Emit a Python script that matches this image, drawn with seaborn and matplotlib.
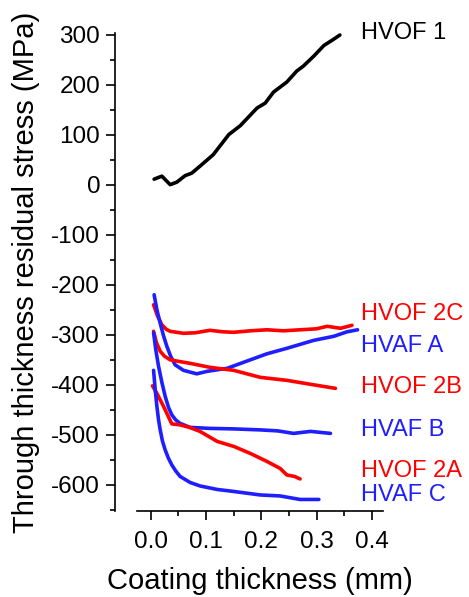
import matplotlib
matplotlib.use("Agg")
import matplotlib.pyplot as plt
import seaborn as sns
import pandas as pd
from matplotlib.ticker import MultipleLocator

# ---- data ----
hvof1_x = [0.006, 0.020, 0.035, 0.047, 0.062, 0.074, 0.089, 0.113, 0.141, 0.162,
           0.192, 0.207, 0.222, 0.246, 0.264, 0.276, 0.295, 0.313, 0.330, 0.342]
hvof1_y = [11, 17, 0, 5, 18, 23, 37, 60, 100, 118,
           153, 163, 185, 205, 227, 237, 257, 278, 290, 299]

hvof2c_x = [0.005, 0.012, 0.020, 0.028, 0.035, 0.047, 0.059, 0.080, 0.107, 0.130,
            0.150, 0.180, 0.210, 0.240, 0.270, 0.300, 0.319, 0.343, 0.364]
hvof2c_y = [-240, -262, -280, -289, -293, -295, -297, -296, -291, -294,
            -295, -292, -290, -292, -290, -288, -283, -287, -281]

hvafa_x = [0.006, 0.011, 0.017, 0.023, 0.029, 0.036, 0.044, 0.059, 0.083, 0.102,
           0.138, 0.180, 0.210, 0.246, 0.295, 0.331, 0.355, 0.374]
hvafa_y = [-220, -250, -277, -302, -323, -343, -360, -371, -378, -373,
           -367, -350, -338, -327, -311, -303, -294, -290]

hvof2b_x = [0.005, 0.010, 0.017, 0.025, 0.035, 0.050, 0.071, 0.107, 0.150, 0.198,
            0.246, 0.295, 0.334]
hvof2b_y = [-293, -315, -333, -343, -350, -353, -357, -365, -371, -385,
            -391, -400, -407]

hvafb_x = [0.005, 0.009, 0.014, 0.020, 0.026, 0.032, 0.038, 0.045, 0.053, 0.071,
           0.107, 0.150, 0.198, 0.230, 0.258, 0.289, 0.325]
hvafb_y = [-296, -330, -363, -395, -423, -445, -460, -470, -477, -485,
           -487, -488, -490, -492, -497, -493, -497]

hvof2a_x = [0.003, 0.010, 0.017, 0.023, 0.029, 0.038, 0.053, 0.070, 0.089, 0.120,
            0.150, 0.180, 0.210, 0.234, 0.246, 0.260, 0.270]
hvof2a_y = [-402, -415, -430, -443, -457, -478, -480, -485, -493, -513,
            -523, -537, -553, -567, -580, -583, -588]

hvafc_x = [0.005, 0.008, 0.011, 0.014, 0.017, 0.021, 0.026, 0.032, 0.038, 0.045,
           0.053, 0.071, 0.089, 0.120, 0.150, 0.198, 0.234, 0.270, 0.304]
hvafc_y = [-371, -410, -443, -470, -490, -512, -530, -547, -560, -572,
           -583, -595, -602, -609, -613, -620, -622, -629, -629]

series_names = ["HVOF 1", "HVOF 2C", "HVAF A", "HVOF 2B", "HVAF B", "HVOF 2A", "HVAF C"]
series_x = [hvof1_x, hvof2c_x, hvafa_x, hvof2b_x, hvafb_x, hvof2a_x, hvafc_x]
series_y = [hvof1_y, hvof2c_y, hvafa_y, hvof2b_y, hvafb_y, hvof2a_y, hvafc_y]
series_colors = ["#000000", "#FF0000", "#1E1EFF", "#FF0000", "#1E1EFF", "#FF0000", "#1E1EFF"]

# label anchor positions (data coords)
label_x = [0.381, 0.381, 0.381, 0.381, 0.381, 0.381, 0.381]
label_y = [304, -258, -322, -404, -491, -573, -620]

x_ticks = [0.0, 0.1, 0.2, 0.3, 0.4]
y_ticks = [-600, -500, -400, -300, -200, -100, 0, 100, 200, 300]

rows = []
for name, xs, ys in zip(series_names, series_x, series_y):
    for xv, yv in zip(xs, ys):
        rows.append({"series": name, "x": xv, "y": yv})
df = pd.DataFrame(rows)

sns.set_theme(style="ticks")
plt.rcParams["font.family"] = ["Liberation Sans", "DejaVu Sans"]

fig = plt.figure(figsize=(4.69, 5.97), dpi=100)
ax = fig.add_axes([0.2921, 0.1441, 0.8166 - 0.2921, 0.9447 - 0.1441])

sns.lineplot(data=df, x="x", y="y", hue="series", palette=dict(zip(series_names, series_colors)),
             hue_order=series_names, sort=False, estimator=None, linewidth=2.6,
             legend=False, ax=ax)

for name, lx, ly, c in zip(series_names, label_x, label_y, series_colors):
    ax.text(lx, ly, name, color=c, fontsize=17, ha="left", va="center")

ax.set_xlim(-0.025, 0.42)
ax.set_ylim(-652, 303)
ax.set_xticks(x_ticks)
ax.set_xticklabels([f"{t:.1f}" for t in x_ticks])
ax.set_yticks(y_ticks)
ax.set_yticklabels([str(t) for t in y_ticks])
ax.xaxis.set_minor_locator(MultipleLocator(0.05))
ax.yaxis.set_minor_locator(MultipleLocator(50))

for side in ["top", "right"]:
    ax.spines[side].set_visible(False)
for side in ["left", "bottom"]:
    ax.spines[side].set_linewidth(1.2)
    ax.spines[side].set_color("black")
ax.spines["left"].set_position(("outward", 16))

ax.tick_params(axis="x", which="major", pad=8)
ax.tick_params(axis="y", which="major", pad=4)
ax.tick_params(axis="both", which="major", length=6.5, width=1.2, color="black",
               labelsize=17.5, labelcolor="black", direction="out")
ax.tick_params(axis="both", which="minor", length=3.5, width=1.2, color="black", direction="out")

ax.set_xlabel("Coating thickness (mm)", fontsize=21, color="black", labelpad=10)
ax.set_ylabel("Through thickness residual stress (MPa)", fontsize=21, color="black", labelpad=8)

fig.savefig("out.png", dpi=100)
